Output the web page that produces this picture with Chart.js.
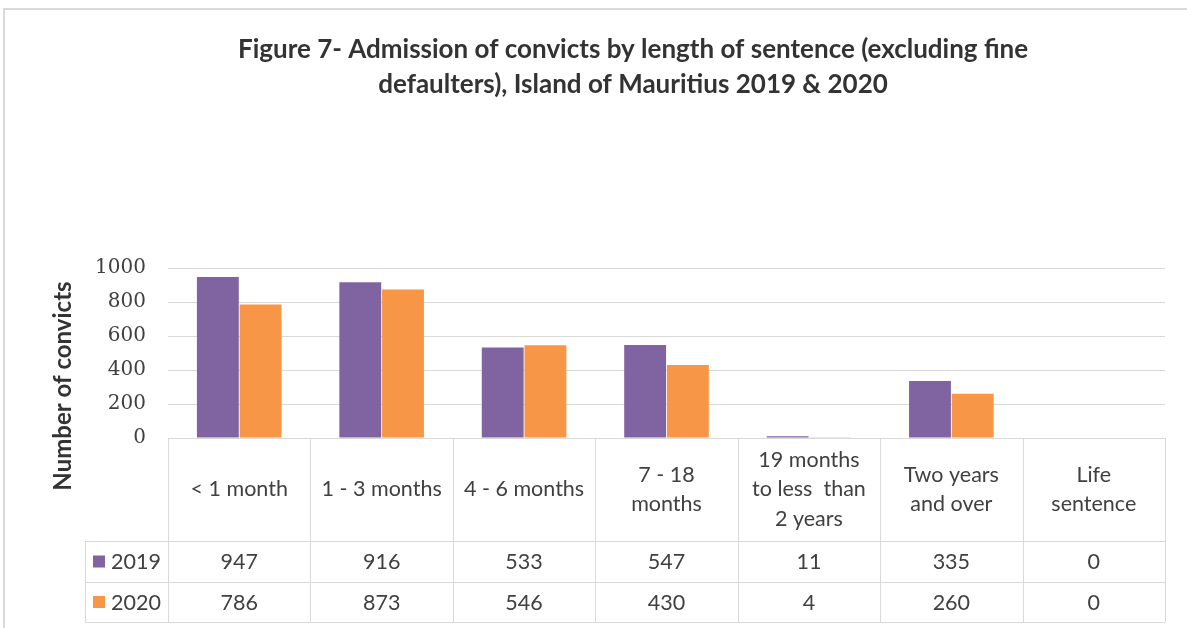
<!DOCTYPE html>
<html>
<head>
<meta charset="utf-8">
<script src="https://cdn.jsdelivr.net/npm/chart.js@4.4.1/dist/chart.umd.min.js"></script>
<style>
  html, body { margin: 0; padding: 0; background: #fff; }
  #wrap { width: 1187px; height: 628px; position: relative; }
</style>
</head>
<body>
<div id="wrap"><canvas id="chart" width="1187" height="628"></canvas></div>
<script>
// Chart data
const titleLines = ['Figure 7- Admission of convicts by length of sentence (excluding fine',
                    'defaulters), Island of Mauritius 2019 & 2020'];
const yTitle = 'Number of convicts';
const categories = [
  ['< 1 month'],
  ['1 - 3 months'],
  ['4 - 6 months'],
  ['7 - 18', 'months'],
  ['19 months', 'to less  than', '2 years'],
  ['Two years', 'and over'],
  ['Life', 'sentence']
];
const seriesNames = ['2019', '2020'];
const values2019 = [947, 916, 533, 547, 11, 335, 0];
const values2020 = [786, 873, 546, 430, 4, 260, 0];
const yTicks = [0, 200, 400, 600, 800, 1000];

const colors = ['#8064A2', '#F79646'];
const textColor = '#404040';
const lineColor = '#d9d9d9';
const bodyFont = 'Lato, "Open Sans", sans-serif';

// frame, chart title and rotated axis title
const framePlugin = {
  id: 'frame',
  beforeDraw(chart) {
    const ctx = chart.ctx;
    ctx.save();
    ctx.fillStyle = '#fff';
    ctx.fillRect(0, 0, chart.width, chart.height);
    ctx.strokeStyle = lineColor;
    ctx.lineWidth = 2;
    ctx.beginPath();
    ctx.moveTo(4, chart.height);
    ctx.lineTo(4, 9);
    ctx.lineTo(chart.width, 9);
    ctx.stroke();
    ctx.fillStyle = '#333';
    ctx.font = 'bold 26px ' + bodyFont;
    ctx.textAlign = 'center';
    ctx.textBaseline = 'middle';
    titleLines.forEach((t, i) => ctx.fillText(t, 633, 50 + i * 35));

    ctx.translate(63, 386);
    ctx.rotate(-Math.PI / 2);
    ctx.font = 'bold 24px ' + bodyFont;
    ctx.fillText(yTitle, 0, 0);
    ctx.restore();
  }
};

// data table under the plot, aligned to the x scale
const tablePlugin = {
  id: 'dataTable',
  afterDraw(chart) {
    const ctx = chart.ctx;
    const x = chart.scales.x;
    const area = chart.chartArea;
    const half = (x.getPixelForValue(1) - x.getPixelForValue(0)) / 2;
    const top = area.bottom;
    const row1 = 541, row2 = 582, bottom = 622;
    const legLeft = 85;
    const left = x.getPixelForValue(0) - half;
    const right = x.getPixelForValue(categories.length - 1) + half;

    ctx.save();
    ctx.strokeStyle = lineColor;
    ctx.lineWidth = 1;
    ctx.beginPath();
    ctx.moveTo(left, top + 0.5); ctx.lineTo(right, top + 0.5);
    [row1, row2, bottom].forEach(y => { ctx.moveTo(legLeft, y + 0.5); ctx.lineTo(right, y + 0.5); });
    ctx.moveTo(legLeft + 0.5, row1); ctx.lineTo(legLeft + 0.5, bottom);
    for (let i = 0; i <= categories.length; i++) {
      const px = Math.round(left + i * half * 2) + 0.5;
      ctx.moveTo(px, top); ctx.lineTo(px, bottom);
    }
    ctx.stroke();

    ctx.fillStyle = textColor;
    ctx.font = '21.5px ' + bodyFont;
    ctx.textAlign = 'center';
    ctx.textBaseline = 'middle';
    const headMid = (top + row1) / 2;
    categories.forEach((lines, i) => {
      const cx = x.getPixelForValue(i);
      const lh = 29.5;
      lines.forEach((l, j) => {
        ctx.fillText(l, cx, headMid + (j - (lines.length - 1) / 2) * lh);
      });
      ctx.fillText(String(values2019[i]), cx, (row1 + row2) / 2 + 1);
      ctx.fillText(String(values2020[i]), cx, (row2 + bottom) / 2 + 1);
    });

    // legend keys
    [[row1, row2], [row2, bottom]].forEach((r, k) => {
      const cy = (r[0] + r[1]) / 2;
      ctx.fillStyle = colors[k];
      ctx.fillRect(93, cy - 6, 12, 12);
      ctx.fillStyle = textColor;
      ctx.textAlign = 'left';
      ctx.fillText(seriesNames[k], 111, cy + 1);
    });
    ctx.restore();
  }
};

new Chart(document.getElementById('chart'), {
  type: 'bar',
  data: {
    labels: categories,
    datasets: [
      { label: seriesNames[0], data: values2019, backgroundColor: colors[0] },
      { label: seriesNames[1], data: values2020, backgroundColor: colors[1] }
    ]
  },
  options: {
    responsive: false,
    animation: false,
    events: [],
    datasets: { bar: { categoryPercentage: 0.6, barPercentage: 0.98 } },
    layout: { padding: { top: 268, bottom: 190, left: 0, right: 22 } },
    plugins: {
      legend: { display: false },
      title: { display: false },
      tooltip: { enabled: false }
    },
    scales: {
      x: { display: false },
      y: {
        min: 0,
        max: 1000,
        afterBuildTicks(scale) { scale.ticks = yTicks.map(v => ({ value: v })); },
        afterFit(scale) { scale.width = 168; },
        grid: { color: lineColor, drawTicks: false },
        border: { display: false },
        ticks: {
          color: textColor,
          padding: 22,
          font: { family: '"DejaVu Serif", serif', size: 20 },
          callback: v => String(v)
        }
      }
    }
  },
  plugins: [framePlugin, tablePlugin]
});
</script>
</body>
</html>
